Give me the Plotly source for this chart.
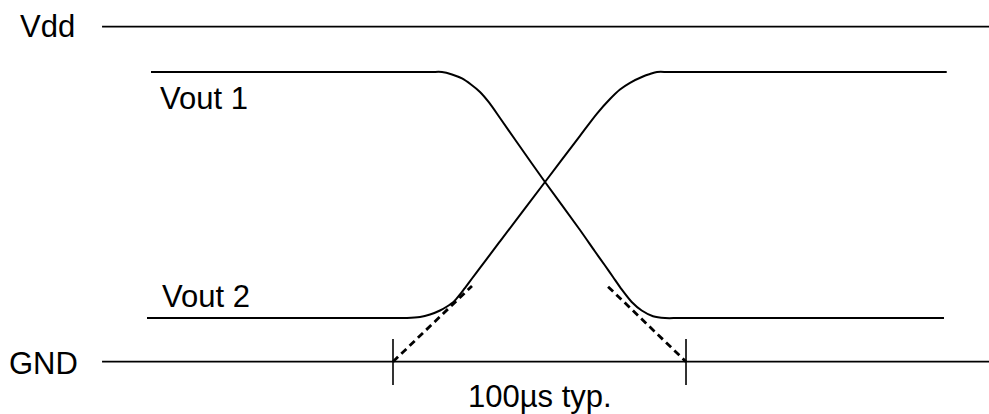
import plotly.graph_objects as go

# ---- data (time in µs, voltage in V; Vdd = 5 V) ----
VDD_LEVEL = 5.0
GND_LEVEL = 0.0
RAIL_T = [-99.3, 203.41]

VOUT1_T = [-82.59, 12.63, 16.72, 20.14, 23.55, 26.62, 29.69, 32.76, 36.52, 41.64,
           51.88, 63.82, 68.94, 72.35, 75.09, 78.05, 81.47, 84.88, 88.74, 92.83,
           97.95, 188.05]
VOUT1_V = [4.324, 4.324, 4.324, 4.287, 4.227, 4.137, 4.025, 3.869, 3.637, 3.316,
           2.682, 1.966, 1.645, 1.436, 1.264, 1.078, 0.891, 0.764, 0.679, 0.652,
           0.652, 0.652]

VOUT2_T = [-83.96, 0.68, 4.78, 9.22, 12.63, 16.04, 18.43, 20.82, 22.87, 24.91,
           26.96, 29.69, 33.11, 36.52, 51.88, 63.82, 69.62, 74.06, 77.47, 80.89,
           85.32, 87.71, 90.10, 94.54, 188.98]
VOUT2_V = [0.652, 0.652, 0.652, 0.667, 0.704, 0.764, 0.824, 0.899, 1.003, 1.122,
           1.242, 1.401, 1.599, 1.796, 2.682, 3.372, 3.704, 3.921, 4.063, 4.163,
           4.257, 4.294, 4.324, 4.324, 4.324]

DASH_L_T = [0.0, 26.96]
DASH_L_V = [0.0, 1.13]
DASH_R_T = [73.4, 100.0]
DASH_R_V = [1.12, 0.0]

TICK_T = [0.0, 100.0]
TICK_V = [0.339, -0.348]

LABELS = ["Vdd", "Vout 1", "Vout 2", "GND", "100\u00b5s typ."]
LABEL_T = [-118.09, -64.51, -63.99, -119.28, 50.17]
LABEL_V = [5.0, 3.931, 0.970, -0.034, -0.519]

# ---- figure ----
fig = go.Figure()

black = "#000000"

for lvl in (VDD_LEVEL, GND_LEVEL):
    fig.add_trace(go.Scatter(x=RAIL_T, y=[lvl, lvl], mode="lines",
                             line=dict(color=black, width=1.8), hoverinfo="skip"))

fig.add_trace(go.Scatter(x=VOUT1_T, y=VOUT1_V, mode="lines",
                         line=dict(color=black, width=2, shape="spline", smoothing=0.8),
                         hoverinfo="skip"))
fig.add_trace(go.Scatter(x=VOUT2_T, y=VOUT2_V, mode="lines",
                         line=dict(color=black, width=2, shape="spline", smoothing=0.8),
                         hoverinfo="skip"))

for tx, ty in ((DASH_L_T, DASH_L_V), (DASH_R_T, DASH_R_V)):
    fig.add_trace(go.Scatter(x=tx, y=ty, mode="lines",
                             line=dict(color=black, width=2.8, dash="7px,4.5px"),
                             hoverinfo="skip"))

for t in TICK_T:
    fig.add_trace(go.Scatter(x=[t, t], y=TICK_V, mode="lines",
                             line=dict(color=black, width=1.6), hoverinfo="skip"))

for txt, t, v in zip(LABELS, LABEL_T, LABEL_V):
    fig.add_annotation(x=t, y=v, text=txt, showarrow=False,
                       xanchor="center", yanchor="middle",
                       font=dict(family="Liberation Sans, Arial, sans-serif",
                                 size=31, color=black))

fig.update_layout(
    width=989, height=414,
    margin=dict(l=0, r=0, t=0, b=0),
    paper_bgcolor="white", plot_bgcolor="white",
    showlegend=False,
    xaxis=dict(range=[-134.13, 203.41], visible=False, fixedrange=True),
    yaxis=dict(range=[-0.7806, 5.3985], visible=False, fixedrange=True),
)

fig.write_html(
    "out.html",
    config={"displayModeBar": False},
    post_script="document.body.style.margin='0px';document.body.style.overflow='hidden';",
)
